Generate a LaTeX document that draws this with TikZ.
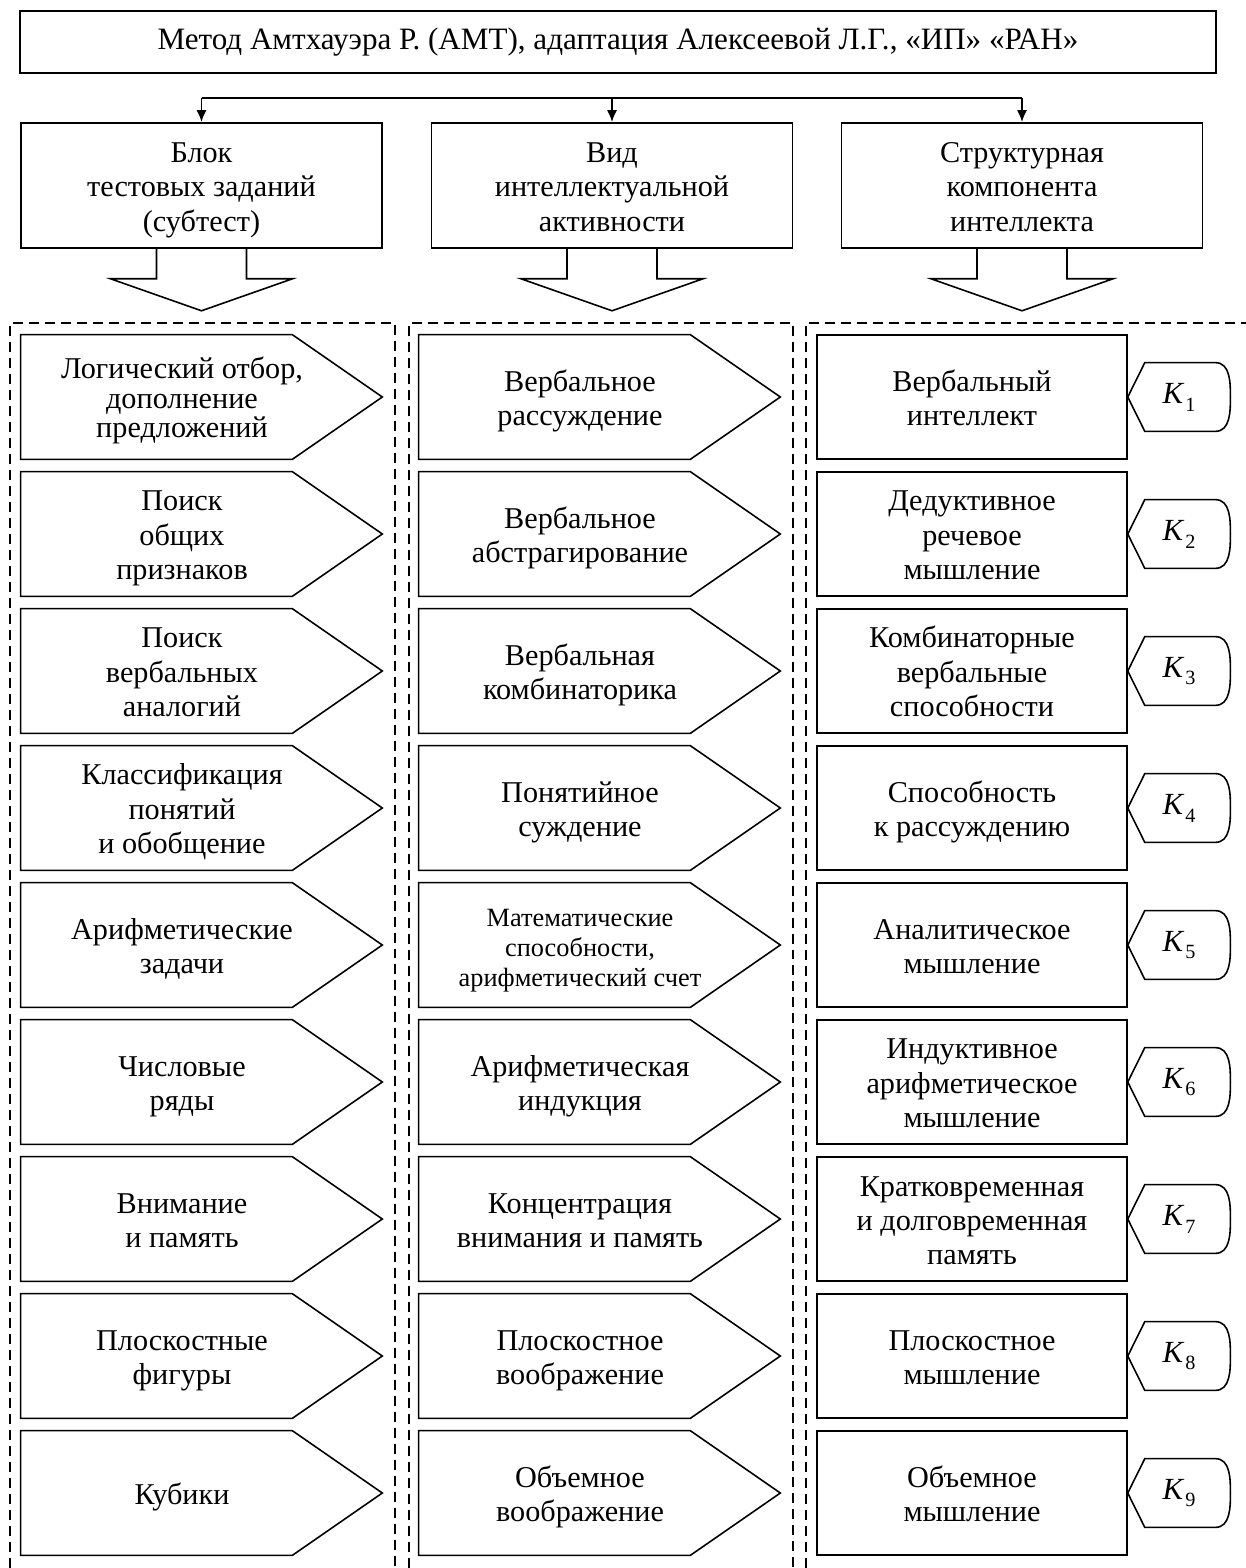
\documentclass[tikz,border=0pt]{standalone}
\usepackage{fontspec}
\setmainfont{Liberation Serif}
\usetikzlibrary{arrows.meta,positioning}
\newcommand\txtfont{\fontsize{17.2}{19.6}\selectfont}
\newcommand\tightfont{\fontsize{17.2}{16.8}\selectfont}
\newcommand\smfont{\fontsize{15}{17}\selectfont}
\newcommand\kfont{\fontsize{17.5}{20}\selectfont}
\newcommand\subfont{\fontsize{11.5}{12}\selectfont}
% line struts: top of first line, foot of last line
\newcommand\up{\rule{0pt}{19pt}}
\newcommand\dn{\rule[-6pt]{0pt}{6pt}}

\tikzset{
  outl/.style={line width=0.9pt},
  lbl/.style={align=center, inner sep=0pt},
  hdr/.style={draw, outl, lbl, minimum width=7.22cm, minimum height=2.5cm},
  task/.style={lbl, minimum width=6.44cm, minimum height=2.48cm},
  comp/.style={draw, outl, lbl, minimum width=6.2cm, minimum height=2.48cm},
  kbox/.style={minimum width=2.04cm, minimum height=1.36cm, inner sep=0pt, font=\kfont},
  zone/.style={line width=1.5pt, dash pattern=on 0.2cm off 0.12cm},
  arr/.style={line width=1.1pt, -{Latex[length=0.24cm,width=0.2cm]}},
}

\begin{document}
\begin{tikzpicture}[x=0.02cm, y=-0.02cm, font=\txtfont]
\useasboundingbox (0,0) rectangle (1246,1568);

% method
\node[draw, outl, minimum width=23.92cm, minimum height=1.24cm, font=\fontsize{17.7}{20}\selectfont] (amt) at (618,42)
  {Метод Амтхауэра Р. (АМТ), адаптация Алексеевой Л.Г., «ИП» «РАН»};

% headers
\node[hdr] (blk) at (201.5,185.5) {\up Блок\\тестовых заданий\\(субтест)\dn};
\node[hdr] (vid) at (612,185.5) {\up Вид\\интеллектуальной\\активности\dn};
\node[hdr] (str) at (1022,185.5) {\up Структурная\\компонента\\интеллекта\dn};

\coordinate (busL) at (blk.north |- 0,98);
\coordinate (busR) at (str.north |- 0,98);
\draw[line width=1.1pt] (busL) -- (busR);
\draw[arr] (busL) -- (blk.north);
\draw[arr] (vid.north |- busL) -- (vid.north);
\draw[arr] (busR) -- (str.north);

% block arrows
\foreach \h in {blk,vid,str}
  \draw[outl] ([xshift=-0.9cm]\h.south) -- ++(0,30) -- ++(-46,0) -- ++(91,32) -- ++(91,-32) -- ++(-46,0) -- ++(0,-30);

% dashed columns
\draw[zone] (10,1568) -- (10,323) -- (395,323) -- (395,1568);
\draw[zone] (409,1568) -- (409,323) -- (793,323) -- (793,1568);
\draw[zone] (806,1568) -- (806,323) -- (1250,323);

% rows
\foreach \i/\fa/\ta/\fb/\tb/\tc in {
  1/\tightfont/{Логический отбор,\\дополнение\\предложений}/\txtfont/{Вербальное\\рассуждение}/{Вербальный\\интеллект},
  2/\txtfont/{Поиск\\общих\\признаков}/\txtfont/{Вербальное\\абстрагирование}/{Дедуктивное\\речевое\\мышление},
  3/\txtfont/{Поиск\\вербальных\\аналогий}/\txtfont/{Вербальная\\комбинаторика}/{Комбинаторные\\вербальные\\способности},
  4/\txtfont/{Классификация\\понятий\\и обобщение}/\txtfont/{Понятийное\\суждение}/{Способность\\к рассуждению},
  5/\txtfont/{Арифметические\\задачи}/\smfont/{Математические\\способности,\\арифметический счет}/{Аналитическое\\мышление},
  6/\txtfont/{Числовые\\ряды}/\txtfont/{Арифметическая\\индукция}/{Индуктивное\\арифметическое\\мышление},
  7/\txtfont/{Внимание\\и память}/\txtfont/{Концентрация\\внимания и память}/{Кратковременная\\и долговременная\\память},
  8/\txtfont/{Плоскостные\\фигуры}/\txtfont/{Плоскостное\\воображение}/{Плоскостное\\мышление},
  9/\txtfont/{Кубики}/\txtfont/{Объемное\\воображение}/{Объемное\\мышление}}{
  \node[task, font=\fa] (t\i) at (182,{397+(\i-1)*137}) {\up\ta\dn};
  \draw[outl] (t\i.north west) -- ([xshift=-1.02cm]t\i.north east) -- ([xshift=0.78cm]t\i.east)
    -- ([xshift=-1.02cm]t\i.south east) -- (t\i.south west) -- cycle;
  \node[task, font=\fb] (v\i) at (580,{397+(\i-1)*137}) {\up\tb\dn};
  \draw[outl] (v\i.north west) -- ([xshift=-1.02cm]v\i.north east) -- ([xshift=0.78cm]v\i.east)
    -- ([xshift=-1.02cm]v\i.south east) -- (v\i.south west) -- cycle;
  \node[comp] (c\i) at (972,{397+(\i-1)*137}) {\up\tc\dn};
  \node[kbox, anchor=west] (k\i) at (c\i.east) {\textit{K}\kern0.5pt\raisebox{-4.5pt}{\subfont\i}};
  \draw[outl] (k\i.west) -- ([xshift=0.34cm]k\i.north west) -- ([xshift=-0.3cm]k\i.north east)
    to[out=0,in=90] (k\i.east) to[out=-90,in=0] ([xshift=-0.3cm]k\i.south east)
    -- ([xshift=0.34cm]k\i.south west) -- cycle;
}
\end{tikzpicture}
\end{document}
